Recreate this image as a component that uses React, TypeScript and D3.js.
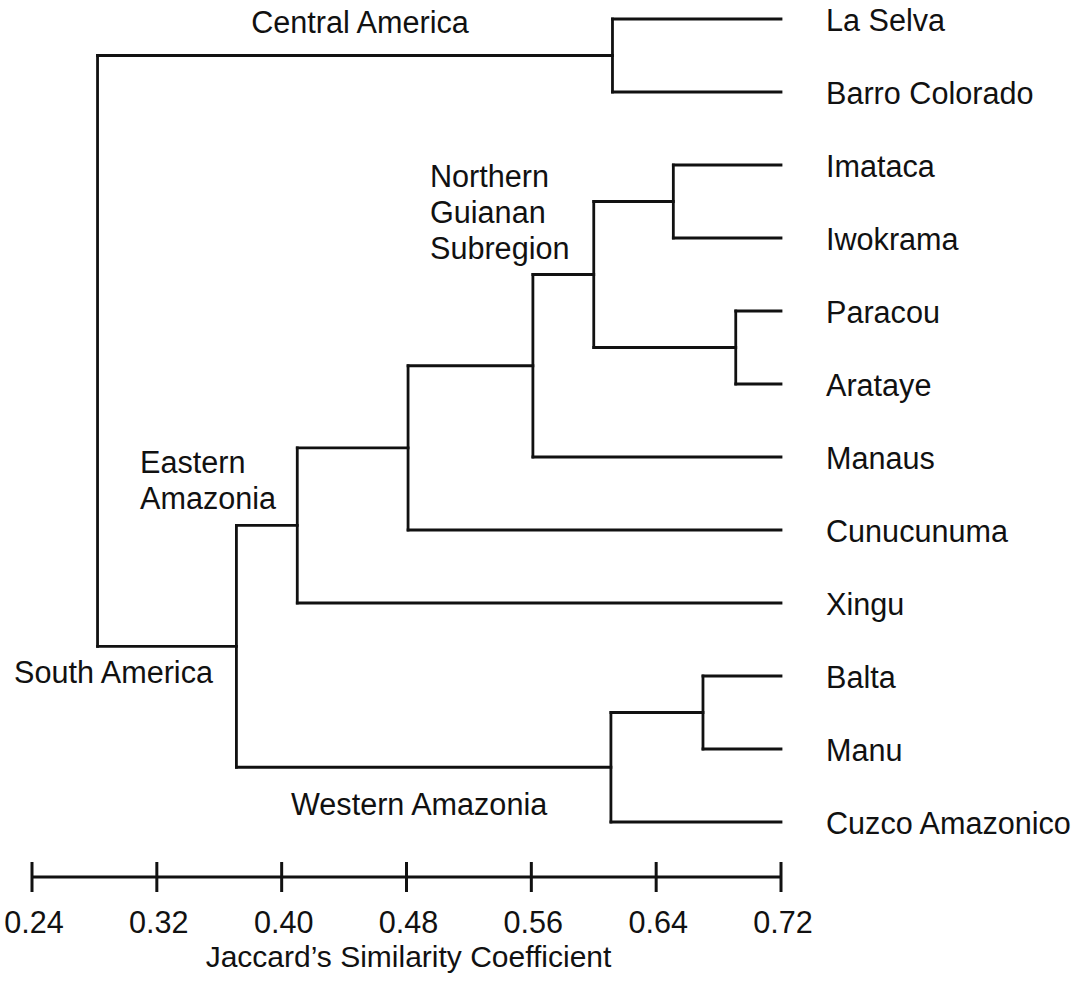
import React, { useEffect, useRef } from "react";
import * as d3 from "d3";

// leaf order top to bottom
const leafNames = [
  "La Selva",
  "Barro Colorado",
  "Imataca",
  "Iwokrama",
  "Paracou",
  "Arataye",
  "Manaus",
  "Cunucunuma",
  "Xingu",
  "Balta",
  "Manu",
  "Cuzco Amazonico",
];

// hclust style merges: negative = leaf (-(index+1)), positive = earlier merge (1-based)
const mergeLeft = [-1, -3, -5, 2, 4, 5, 6, -10, 8, 7, 1];
const mergeRight = [-2, -4, -6, 3, -7, -8, -9, -11, -12, 9, 10];
const mergeHeight = [0.612, 0.651, 0.691, 0.6, 0.561, 0.481, 0.41, 0.67, 0.611, 0.371, 0.282];

const tickValues = [0.24, 0.32, 0.4, 0.48, 0.56, 0.64, 0.72];

const groupLabels = [
  { lines: ["Central America"], x: 360, y: 33, anchor: "middle" },
  { lines: ["Northern", "Guianan", "Subregion"], x: 430, y: 187, anchor: "start" },
  { lines: ["Eastern", "Amazonia"], x: 140, y: 473, anchor: "start" },
  { lines: ["South America"], x: 14, y: 683, anchor: "start" },
  { lines: ["Western Amazonia"], x: 291, y: 815, anchor: "start" },
];

interface Node {
  name?: string;
  height: number;
  children?: Node[];
}

function buildTree(): Node {
  const nodes: Node[] = [];
  const ref = (k: number): Node =>
    k < 0 ? { name: leafNames[-k - 1], height: 0.72 } : nodes[k - 1];
  mergeLeft.forEach((l, i) => {
    nodes.push({ height: mergeHeight[i], children: [ref(l), ref(mergeRight[i])] });
  });
  return nodes[nodes.length - 1];
}

const App: React.FC = () => {
  const svgRef = useRef<SVGSVGElement | null>(null);

  useEffect(() => {
    if (!svgRef.current) return;
    d3.select(svgRef.current).selectAll("*").remove();

    const width = 1088;
    const height = 982;
    const font = "'Liberation Sans', Arial, Helvetica, sans-serif";
    const fs = 30.6;
    const sw = 2.8;

    const svg = d3.select(svgRef.current).attr("width", width).attr("height", height);

    const x = d3.scaleLinear().domain([0.24, 0.72]).range([32, 781]);
    const y = d3.scalePoint<string>().domain(leafNames).range([19, 822]);

    const root = d3.hierarchy<Node>(buildTree());
    // leaf y from the point scale, parent y = midpoint of its children
    const yPos = new Map<d3.HierarchyNode<Node>, number>();
    root.eachAfter((d) => {
      if (!d.children) yPos.set(d, y(d.data.name!)!);
      else yPos.set(d, d3.mean(d.children, (c) => yPos.get(c)!)!);
    });
    const py = (d: d3.HierarchyNode<Node>) => yPos.get(d)!;
    const px = (d: d3.HierarchyNode<Node>) => x(d.data.height);

    const g = svg.append("g");

    // dendrogram elbows
    root.descendants().forEach((d) => {
      if (!d.children) return;
      const ys = d.children.map(py);
      g.append("line")
        .attr("x1", px(d)).attr("x2", px(d))
        .attr("y1", d3.min(ys)!).attr("y2", d3.max(ys)!)
        .attr("stroke", "#111").attr("stroke-width", sw).attr("stroke-linecap", "square");
      d.children.forEach((c) => {
        g.append("line")
          .attr("x1", px(d)).attr("x2", px(c))
          .attr("y1", py(c)).attr("y2", py(c))
          .attr("stroke", "#111").attr("stroke-width", sw).attr("stroke-linecap", "square");
      });
    });

    // leaf labels
    g.selectAll(".leaf")
      .data(root.leaves())
      .enter()
      .append("text")
      .attr("x", 826)
      .attr("y", (d) => py(d))
      .attr("dy", "0.4em")
      .attr("font-family", font)
      .attr("font-size", fs)
      .attr("fill", "#111")
      .text((d) => d.data.name || "");

    // group labels
    groupLabels.forEach((lab) => {
      const t = g.append("text")
        .attr("x", lab.x).attr("y", lab.y)
        .attr("text-anchor", lab.anchor)
        .attr("font-family", font).attr("font-size", fs).attr("fill", "#111");
      lab.lines.forEach((line, i) => {
        t.append("tspan").attr("x", lab.x).attr("dy", i === 0 ? 0 : "1.18em").text(line);
      });
    });

    // axis
    const axisY = 877;
    const ax = svg.append("g");
    ax.append("line")
      .attr("x1", x(0.24)).attr("x2", x(0.72))
      .attr("y1", axisY).attr("y2", axisY)
      .attr("stroke", "#111").attr("stroke-width", sw);
    ax.selectAll(".tick")
      .data(tickValues)
      .enter()
      .append("line")
      .attr("x1", (d) => x(d)).attr("x2", (d) => x(d))
      .attr("y1", axisY - 15).attr("y2", axisY + 15)
      .attr("stroke", "#111").attr("stroke-width", 3);
    ax.selectAll(".ticklabel")
      .data(tickValues)
      .enter()
      .append("text")
      .attr("x", (d) => x(d) + 2)
      .attr("y", 933)
      .attr("text-anchor", "middle")
      .attr("font-family", font).attr("font-size", fs).attr("fill", "#111")
      .text((d) => d3.format(".2f")(d));
    ax.append("text")
      .attr("x", (x(0.24) + x(0.72)) / 2 + 2)
      .attr("y", 967)
      .attr("text-anchor", "middle")
      .attr("font-family", font).attr("font-size", 30).attr("fill", "#111")
      .text("Jaccard\u2019s Similarity Coefficient");
  }, []);

  return (
    <svg
      ref={svgRef}
      style={{ position: "absolute", left: 0, top: 0, display: "block", background: "#fff" }}
    ></svg>
  );
};

export default App;
